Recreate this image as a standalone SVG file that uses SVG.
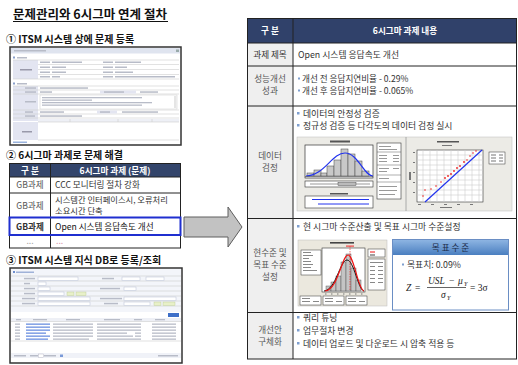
<svg xmlns="http://www.w3.org/2000/svg" width="518" height="365" viewBox="0 0 518 365">
<defs>
<style>
text{font-family:"Noto Sans CJK KR","Liberation Sans",sans-serif;fill:#222}
.h{font-weight:bold;font-size:10px;fill:#111}
.t{font-size:8.6px;fill:#333}
.lab{font-size:8.6px;fill:#555;text-anchor:middle}
.hd{font-size:8.6px;fill:#fff;font-weight:bold;text-anchor:middle}
.b{font-size:8.8px;fill:#333}
.bul{fill:#7f9fcf}
.ln{stroke:#222;stroke-width:1;fill:none}
.g{fill:#c9c9c9}
.gl{stroke:#cfcfcf;stroke-width:0.6}
.tx{fill:#b8bcc8}
.lav{fill:#e3e5f1}
.f{font-family:"Liberation Serif",serif;font-style:italic;font-size:9.5px;fill:#222}
</style>
<linearGradient id="gb" x1="0" y1="0" x2="0" y2="1"><stop offset="0" stop-color="#8db4e2"/><stop offset="1" stop-color="#4a7fc0"/></linearGradient>
</defs>
<rect width="518" height="365" fill="#fff"/>

<g id="title">
<text x="13" y="19" style="font-size:12.5px;font-weight:bold;fill:#111">문제관리와 6시그마 연계 절차</text>
<line x1="13" y1="21.5" x2="168" y2="21.5" stroke="#111" stroke-width="1"/>
</g>

<g id="step1">
<text x="6" y="43" class="h">① ITSM 시스템 상에 문제 등록</text>
</g>

<g id="screen1">
<rect x="10" y="47" width="171" height="98" fill="#fff" stroke="#333" stroke-width="1.5"/>
<rect x="11" y="48" width="169" height="5.5" fill="#dfe4ef"/>
<rect x="14" y="50" width="32" height="1.5" class="tx"/>
<rect x="176" y="49.5" width="3" height="2.5" fill="#9aa"/>
<rect x="13" y="56.5" width="2" height="2" fill="#8aa0cc"/><rect x="17" y="57" width="10" height="1.5" class="tx"/>
<rect x="13" y="60" width="25" height="19" class="lav"/>
<rect x="20" y="69" width="12" height="1.5" fill="#99a"/>
<g class="gl"><line x1="13" y1="60" x2="179" y2="60"/><line x1="13" y1="79" x2="179" y2="79"/><line x1="38" y1="64.5" x2="179" y2="64.5"/><line x1="38" y1="69.5" x2="179" y2="69.5"/><line x1="38" y1="74.5" x2="179" y2="74.5"/></g>
<g class="tx">
<rect x="40" y="61.5" width="10" height="1.5"/><rect x="52" y="61.5" width="30" height="1.5"/>
<rect x="40" y="66.5" width="10" height="1.5"/><rect x="52" y="66.5" width="14" height="1.5"/>
<rect x="40" y="71.5" width="10" height="1.5"/><rect x="52" y="71.5" width="14" height="1.5"/>
<rect x="40" y="76" width="10" height="1.5"/><rect x="52" y="76" width="8" height="1.5"/>
<rect x="103" y="61.5" width="10" height="1.5"/><rect x="115" y="61.5" width="26" height="1.5"/>
<rect x="103" y="66.5" width="10" height="1.5"/><rect x="115" y="66.5" width="12" height="1.5"/>
<rect x="103" y="71.5" width="10" height="1.5"/><rect x="115" y="71.5" width="18" height="1.5"/>
<rect x="103" y="76" width="10" height="1.5"/><rect x="115" y="76" width="60" height="1.5"/>
</g>
<rect x="13" y="82.5" width="2" height="2" fill="#8aa0cc"/><rect x="17" y="83" width="10" height="1.5" class="tx"/>
<rect x="13" y="86" width="25" height="35" class="lav"/>
<g class="gl"><line x1="13" y1="86" x2="179" y2="86"/><line x1="13" y1="90" x2="179" y2="90"/><line x1="13" y1="94" x2="179" y2="94"/><line x1="13" y1="110" x2="179" y2="110"/><line x1="13" y1="114" x2="179" y2="114"/><line x1="13" y1="118" x2="179" y2="118"/></g>
<rect x="100" y="90.5" width="36" height="3" class="lav"/>
<rect x="97" y="110.5" width="20" height="3" class="lav"/>
<rect x="40" y="95" width="137" height="14" fill="#fff" stroke="#ccc" stroke-width="0.5"/>
<rect x="174" y="96" width="2.5" height="12" fill="#e5e5e5"/>
<g class="tx">
<rect x="25" y="87.3" width="11" height="1.5"/><rect x="40" y="87.3" width="48" height="1.5"/>
<rect x="25" y="91.3" width="11" height="1.5"/><rect x="40" y="91.3" width="12" height="1.5"/><rect x="104" y="91.3" width="20" height="1.5"/><rect x="140" y="91.3" width="18" height="1.5"/>
<rect x="25" y="101" width="11" height="1.5"/>
<rect x="42" y="97" width="100" height="1.3"/><rect x="42" y="99.5" width="50" height="1.3"/><rect x="42" y="102" width="110" height="1.3"/><rect x="42" y="104.5" width="100" height="1.3"/>
<rect x="25" y="111.3" width="8" height="1.5"/><rect x="40" y="111.3" width="24" height="1.5"/><rect x="100" y="111.3" width="10" height="1.5"/><rect x="122" y="111.3" width="36" height="1.5"/>
<rect x="25" y="115.3" width="10" height="1.5"/><rect x="40" y="115.3" width="42" height="1.5"/>
</g>
<rect x="38" y="119" width="141" height="3" fill="#eef0f6"/>
<g class="gl"><line x1="38" y1="122" x2="179" y2="122"/><line x1="38" y1="140" x2="179" y2="140"/><line x1="70" y1="119" x2="70" y2="122"/><line x1="118" y1="119" x2="118" y2="122"/><line x1="152" y1="119" x2="152" y2="122"/></g>
<rect x="13" y="122" width="25" height="18" class="lav"/>
<rect x="22" y="131" width="10" height="1.5" fill="#99a"/>
<rect x="13" y="141.5" width="14" height="1.5" fill="#9ab3dd"/>
</g>

<g id="step2">
<text x="6" y="159" class="h">② 6시그마 과제로 문제 해결</text>
</g>

<g id="table2">
<rect x="9.5" y="163.5" width="171" height="13.5" fill="#33456b"/>
<text x="30" y="173.5" class="hd">구 분</text>
<text x="115" y="173.5" class="hd">6시그마 과제 (문제)</text>
<g class="ln">
<rect x="9.5" y="163.5" width="171" height="84.5"/>
<line x1="50.5" y1="163.5" x2="50.5" y2="248"/>
<line x1="9.5" y1="177" x2="180.5" y2="177"/>
<line x1="9.5" y1="193" x2="180.5" y2="193"/>
<line x1="9.5" y1="234.5" x2="180.5" y2="234.5"/>
</g>
<text x="30" y="188" class="lab">GB과제</text>
<text x="55" y="188" class="t">CCC 모니터링 절차 강화</text>
<text x="30" y="208.5" class="lab">GB과제</text>
<text x="55" y="202.5" class="t" style="font-size:8.3px">시스템간 인터페이스시, 오류처리</text>
<text x="55" y="213.5" class="t" style="font-size:8.3px">소요시간 단축</text>
<text x="30" y="229.5" class="lab" style="font-weight:bold;fill:#333">GB과제</text>
<text x="55" y="229.5" class="t" style="fill:#111">Open 시스템 응답속도 개선</text>
<text x="30" y="244" class="lab" style="fill:#aaa">...</text>
<text x="56" y="244" class="t" style="fill:#d9a0b0">...</text>
<rect x="9.5" y="217.5" width="171" height="17.5" fill="none" stroke="#1f2fd0" stroke-width="2"/>
</g>

<g id="step3">
<text x="6" y="264" class="h">③ ITSM 시스템 지식 DB로 등록/조회</text>
</g>

<g id="screen3">
<rect x="10" y="268" width="172" height="95" fill="#fff" stroke="#333" stroke-width="1.5"/>
<rect x="11" y="269" width="170" height="43" fill="#f3f5fa"/>
<rect x="13" y="271" width="2" height="2" fill="#6f8fcf"/><rect x="16" y="271.5" width="18" height="1.5" fill="#9fb2d8"/>
<g class="gl"><line x1="11" y1="276" x2="181" y2="276"/><line x1="11" y1="281" x2="181" y2="281"/><line x1="11" y1="286" x2="181" y2="286"/><line x1="11" y1="291" x2="181" y2="291"/><line x1="11" y1="296" x2="181" y2="296"/><line x1="11" y1="301" x2="181" y2="301"/><line x1="11" y1="306" x2="181" y2="306"/></g>
<g class="tx">
<rect x="24" y="277.8" width="11" height="1.5"/><rect x="24" y="282.8" width="6" height="1.5"/><rect x="24" y="287.8" width="11" height="1.5"/><rect x="24" y="292.8" width="11" height="1.5"/><rect x="22" y="297.8" width="13" height="1.5"/><rect x="22" y="302.8" width="13" height="1.5"/>
<rect x="102" y="277.8" width="12" height="1.5"/><rect x="100" y="287.8" width="20" height="1.5"/><rect x="100" y="297.8" width="22" height="1.5"/><rect x="104" y="302.8" width="14" height="1.5"/>
</g>
<g fill="#fff" stroke="#b8c0d4" stroke-width="0.5">
<rect x="38" y="277" width="40" height="3.5"/><rect x="38" y="282" width="8" height="3.5"/><rect x="38" y="287" width="12" height="3.5"/><rect x="38" y="292" width="26" height="3.5"/><rect x="38" y="297" width="52" height="3.5"/><rect x="38" y="302" width="52" height="3.5"/>
<rect x="122" y="277" width="18" height="3.5"/><rect x="146" y="277" width="18" height="3.5"/><rect x="124" y="287" width="12" height="3.5"/><rect x="124" y="297" width="52" height="3.5"/><rect x="124" y="302" width="26" height="3.5"/>
</g>
<g fill="#e8f0c8" stroke="#b8c890" stroke-width="0.4"><rect x="67" y="292" width="7" height="3.5"/><rect x="76" y="292" width="10" height="3.5"/><rect x="154" y="302" width="7" height="3.5"/><rect x="163" y="302" width="12" height="3.5"/></g>
<rect x="168" y="313" width="11" height="4" fill="#3e6fc8"/>
<rect x="11" y="318" width="170" height="3.5" fill="#eef0f6"/>
<g class="gl"><line x1="11" y1="321.5" x2="181" y2="321.5"/><line x1="11" y1="341" x2="181" y2="341"/></g>
<g class="tx">
<rect x="16" y="319" width="5" height="1.3"/><rect x="33" y="319" width="14" height="1.3"/><rect x="66" y="319" width="14" height="1.3"/><rect x="104" y="319" width="16" height="1.3"/><rect x="134" y="319" width="8" height="1.3"/><rect x="155" y="319" width="10" height="1.3"/>
</g>
<g>
<rect x="15" y="323.5" width="5" height="1.3" class="tx"/><rect x="15" y="326.5" width="5" height="1.3" class="tx"/><rect x="15" y="329.5" width="5" height="1.3" class="tx"/><rect x="15" y="332.5" width="5" height="1.3" class="tx"/><rect x="15" y="335.5" width="5" height="1.3" class="tx"/><rect x="15" y="338.5" width="5" height="1.3" class="tx"/>
<g fill="#6b8fe0"><rect x="26" y="323.5" width="24" height="1.3"/><rect x="26" y="326.5" width="24" height="1.3"/><rect x="26" y="329.5" width="24" height="1.3"/><rect x="26" y="332.5" width="20" height="1.3"/><rect x="26" y="335.5" width="24" height="1.3"/><rect x="26" y="338.5" width="22" height="1.3"/></g>
<g class="tx"><rect x="53" y="323.5" width="40" height="1.3"/><rect x="53" y="326.5" width="40" height="1.3"/><rect x="53" y="329.5" width="40" height="1.3"/><rect x="53" y="332.5" width="40" height="1.3"/><rect x="53" y="335.5" width="40" height="1.3"/><rect x="53" y="338.5" width="36" height="1.3"/>
<rect x="97" y="323.5" width="38" height="1.3"/><rect x="97" y="326.5" width="38" height="1.3"/><rect x="97" y="329.5" width="38" height="1.3"/><rect x="97" y="332.5" width="30" height="1.3"/><rect x="97" y="335.5" width="36" height="1.3"/><rect x="97" y="338.5" width="38" height="1.3"/>
<rect x="135" y="323.5" width="6" height="1.3"/><rect x="135" y="326.5" width="6" height="1.3"/><rect x="135" y="329.5" width="6" height="1.3"/><rect x="135" y="332.5" width="6" height="1.3"/><rect x="135" y="335.5" width="6" height="1.3"/><rect x="135" y="338.5" width="6" height="1.3"/>
<rect x="152" y="323.5" width="24" height="1.3"/><rect x="152" y="326.5" width="24" height="1.3"/><rect x="152" y="329.5" width="24" height="1.3"/><rect x="152" y="332.5" width="24" height="1.3"/><rect x="152" y="335.5" width="24" height="1.3"/><rect x="152" y="338.5" width="24" height="1.3"/></g>
</g>
<rect x="11" y="353" width="170" height="5" fill="#f0f2f8"/>
<g class="tx"><rect x="14" y="355" width="12" height="1.5"/><rect x="30" y="355" width="8" height="1.5"/><rect x="44" y="355" width="12" height="1.5"/><rect x="158" y="355" width="20" height="1.5"/></g>
<rect x="38.5" y="354" width="5" height="3.5" fill="#fff" stroke="#aab" stroke-width="0.4"/>
<rect x="60" y="354.5" width="3" height="2.5" fill="#7a9ad8"/>
</g>

<g id="connectors">
<path d="M184,217 L228,217 L228,207 L242,227 L228,247 L228,237 L184,237 Z" fill="#c2c2c2" stroke="#5e5e5e" stroke-width="1"/>
</g>

<g id="table-right">
<rect x="247.5" y="18.5" width="269" height="24.5" fill="#30416a"/>
<rect x="247.5" y="43" width="45.5" height="316" fill="#efefef"/>
<text x="270" y="34" class="hd">구 분</text>
<text x="405" y="34" class="hd">6시그마 과제 내용</text>
<g class="ln" stroke-width="1.3">
<rect x="247.5" y="18.5" width="269" height="340.5"/>
<line x1="293" y1="18.5" x2="293" y2="359"/>
<line x1="247.5" y1="43" x2="516.5" y2="43"/>
<line x1="247.5" y1="66" x2="516.5" y2="66"/>
<line x1="247.5" y1="106" x2="516.5" y2="106"/>
<line x1="247.5" y1="218.5" x2="516.5" y2="218.5"/>
<line x1="247.5" y1="312.5" x2="516.5" y2="312.5"/>
</g>

<g id="row-title">
<text x="270" y="58" class="lab" style="fill:#333">과제 제목</text>
<text x="298" y="58" class="b">Open 시스템 응답속도 개선</text>
</g>

<g id="row-perf">
<text x="270" y="82" class="lab">성능개선</text>
<text x="270" y="94" class="lab">성과</text>
<rect x="298" y="77.5" width="2" height="2" class="bul"/>
<text x="302" y="82" class="b" style="font-size:8.6px">개선 전 응답지연비율  - 0.29%</text>
<rect x="298" y="89.5" width="2" height="2" class="bul"/>
<text x="302" y="94" class="b" style="font-size:8.6px">개선 후 응답지연비율  - 0.065%</text>
</g>

<g id="row-data">
<text x="270" y="159" class="lab">데이터</text>
<text x="270" y="171" class="lab">검정</text>
<rect x="297" y="112" width="2.5" height="2.5" class="bul"/>
<text x="303" y="117" class="b">데이터의 안정성 검증</text>
<rect x="297" y="124" width="2.5" height="2.5" class="bul"/>
<text x="303" y="129" class="b">정규성 검증 등 다각도의 데이터 검정 실시</text>
<rect x="297" y="137" width="215" height="74" fill="#ecebe6" stroke="#bbb" stroke-width="0.5"/>
<line x1="406" y1="137" x2="406" y2="211" stroke="#999" stroke-width="0.8"/>
<rect x="330" y="140.5" width="20" height="2" fill="#555"/>
<rect x="305" y="145" width="68" height="33" fill="#fff" stroke="#333" stroke-width="0.7"/>
<g fill="#c8c8c8" stroke="#444" stroke-width="0.5">
<rect x="307" y="173" width="7" height="3"/><rect x="314" y="170" width="7" height="6"/><rect x="321" y="173" width="6" height="3"/><rect x="327" y="166" width="7" height="10"/><rect x="334" y="160" width="7" height="16"/><rect x="341" y="149" width="7" height="27"/><rect x="348" y="154" width="7" height="22"/><rect x="355" y="161" width="7" height="15"/><rect x="362" y="171" width="7" height="5"/>
</g>
<path d="M306,176 C324,176 332,153 345,153 C358,153 364,176 373,176" fill="none" stroke="#2233ee" stroke-width="1.2"/>
<line x1="305" y1="176.5" x2="373" y2="176.5" stroke="#333" stroke-width="0.5"/>
<rect x="305" y="181" width="68" height="6" fill="#fff" stroke="#333" stroke-width="0.6"/>
<line x1="310" y1="184" x2="370" y2="184" stroke="#333" stroke-width="0.5"/>
<rect x="338" y="182.5" width="18" height="3" fill="#bbb" stroke="#333" stroke-width="0.4"/>
<rect x="330" y="193" width="18" height="1.5" fill="#555"/>
<rect x="305" y="196" width="68" height="12" fill="#fff" stroke="#333" stroke-width="0.6"/>
<line x1="312" y1="199.5" x2="369" y2="199.5" stroke="#2233ee" stroke-width="1"/>
<line x1="318" y1="204" x2="369" y2="204" stroke="#2233ee" stroke-width="1"/>
<rect x="377" y="143" width="24" height="56" fill="#fff" stroke="#333" stroke-width="0.6"/>
<g stroke="#333" stroke-width="0.4"><line x1="377" y1="152" x2="401" y2="152"/><line x1="377" y1="165" x2="401" y2="165"/><line x1="377" y1="175" x2="401" y2="175"/><line x1="377" y1="182" x2="401" y2="182"/></g>
<g fill="#999"><rect x="379" y="146" width="12" height="1"/><rect x="379" y="149" width="18" height="1"/><rect x="379" y="155" width="8" height="1"/><rect x="379" y="158" width="8" height="1"/><rect x="379" y="161" width="8" height="1"/><rect x="393" y="155" width="6" height="1"/><rect x="393" y="158" width="6" height="1"/><rect x="393" y="161" width="6" height="1"/><rect x="379" y="168" width="10" height="1"/><rect x="379" y="171" width="8" height="1"/><rect x="393" y="168" width="6" height="1"/><rect x="379" y="178" width="10" height="1"/><rect x="379" y="186" width="18" height="1"/><rect x="379" y="190" width="18" height="1"/><rect x="379" y="194" width="16" height="1"/></g>
<rect x="437" y="141" width="22" height="1.5" fill="#555"/>
<rect x="442" y="145" width="10" height="1" fill="#777"/>
<rect x="417" y="150" width="66" height="52" fill="#fff" stroke="#333" stroke-width="0.6"/>
<g class="gl" stroke-width="0.4"><line x1="423" y1="150" x2="423" y2="202"/><line x1="430" y1="150" x2="430" y2="202"/><line x1="437" y1="150" x2="437" y2="202"/><line x1="444" y1="150" x2="444" y2="202"/><line x1="451" y1="150" x2="451" y2="202"/><line x1="458" y1="150" x2="458" y2="202"/><line x1="465" y1="150" x2="465" y2="202"/><line x1="472" y1="150" x2="472" y2="202"/><line x1="479" y1="150" x2="479" y2="202"/>
<line x1="417" y1="155" x2="483" y2="155"/><line x1="417" y1="160" x2="483" y2="160"/><line x1="417" y1="165" x2="483" y2="165"/><line x1="417" y1="170" x2="483" y2="170"/><line x1="417" y1="175" x2="483" y2="175"/><line x1="417" y1="180" x2="483" y2="180"/><line x1="417" y1="185" x2="483" y2="185"/><line x1="417" y1="190" x2="483" y2="190"/><line x1="417" y1="195" x2="483" y2="195"/></g>
<line x1="425" y1="202" x2="482" y2="150" stroke="#2233ee" stroke-width="1.2"/>
<g fill="#ee2222"><circle cx="423" cy="196" r="0.8"/><circle cx="425" cy="190" r="0.8"/><circle cx="431" cy="189" r="0.8"/><circle cx="436" cy="186" r="0.8"/><circle cx="441" cy="182" r="0.8"/><circle cx="445" cy="178" r="0.9"/><circle cx="448" cy="176" r="0.9"/><circle cx="451" cy="174" r="0.9"/><circle cx="454" cy="171" r="0.9"/><circle cx="457" cy="168" r="0.9"/><circle cx="460" cy="166" r="0.9"/><circle cx="464" cy="162" r="0.9"/><circle cx="467" cy="160" r="0.8"/><circle cx="470" cy="156" r="0.8"/><circle cx="473" cy="153" r="0.8"/><circle cx="476" cy="151" r="0.8"/></g>
<g fill="#777"><rect x="413" y="152" width="2" height="1"/><rect x="413" y="162" width="2" height="1"/><rect x="413" y="172" width="2" height="1"/><rect x="413" y="182" width="2" height="1"/><rect x="413" y="192" width="2" height="1"/><rect x="409" y="172" width="2" height="8"/><rect x="418" y="204" width="3" height="1"/><rect x="431" y="204" width="3" height="1"/><rect x="444" y="204" width="3" height="1"/><rect x="457" y="204" width="3" height="1"/><rect x="470" y="204" width="3" height="1"/><rect x="440" y="207" width="12" height="1"/></g>
<rect x="489" y="152" width="16" height="12" fill="#fff" stroke="#333" stroke-width="0.5"/>
<g fill="#777"><rect x="491" y="154.5" width="5" height="1"/><rect x="491" y="157.5" width="5" height="1"/><rect x="491" y="160.5" width="5" height="1"/><rect x="499" y="154.5" width="4" height="1"/><rect x="499" y="157.5" width="4" height="1"/><rect x="499" y="160.5" width="4" height="1"/></g>
</g>

<g id="row-level">
<text x="270" y="256" class="lab">현수준 및</text>
<text x="270" y="268" class="lab">목표 수준</text>
<text x="270" y="280" class="lab">설정</text>
<rect x="297" y="225" width="2.5" height="2.5" class="bul"/>
<text x="303" y="230" class="b">현 시그마 수준산출 및 목표 시그마 수준설정</text>
<rect x="298" y="240" width="89" height="66" fill="#ebe8de" stroke="#bbb" stroke-width="0.5"/>
<rect x="330" y="242" width="24" height="1.6" fill="#444"/>
<rect x="301" y="250" width="20" height="25" fill="#fff" stroke="#333" stroke-width="0.5"/>
<g fill="#888"><rect x="303" y="252" width="8" height="1"/><rect x="303" y="255" width="10" height="1"/><rect x="303" y="258" width="6" height="1"/><rect x="303" y="261" width="8" height="1"/><rect x="303" y="264" width="10" height="1"/><rect x="303" y="267" width="8" height="1"/><rect x="303" y="270" width="14" height="1"/></g>
<rect x="322" y="248" width="43" height="44" fill="#fff" stroke="#333" stroke-width="0.6"/>
<g fill="#c4c4c4" stroke="#444" stroke-width="0.4">
<rect x="326" y="286" width="5" height="5"/><rect x="331" y="282" width="5" height="9"/><rect x="336" y="276" width="5" height="15"/><rect x="341" y="262" width="5" height="29"/><rect x="346" y="254" width="5" height="37"/><rect x="351" y="268" width="5" height="23"/><rect x="356" y="280" width="5" height="11"/>
</g>
<path d="M324,291 C336,290 340,260 347,260 C354,260 358,290 364,291" fill="none" stroke="#111" stroke-width="1"/>
<path d="M325,291 C338,290 342,255 348,255 C354,255 358,290 364,291" fill="none" stroke="#ee1111" stroke-width="1.2"/>
<line x1="350" y1="246" x2="350" y2="291" stroke="#ee1111" stroke-width="0.6" stroke-dasharray="1.5,1"/>
<rect x="346" y="245.5" width="8" height="1.2" fill="#e44"/>
<rect x="368" y="249" width="17" height="8" fill="#fff" stroke="#333" stroke-width="0.5"/>
<line x1="370" y1="252" x2="375" y2="252" stroke="#e11" stroke-width="1"/><line x1="370" y1="255" x2="375" y2="255" stroke="#111" stroke-width="0.8"/>
<rect x="368" y="259" width="17" height="31" fill="#fff" stroke="#333" stroke-width="0.5"/>
<g fill="#888"><rect x="370" y="262" width="13" height="1"/><rect x="370" y="266" width="5" height="1"/><rect x="378" y="266" width="5" height="1"/><rect x="370" y="270" width="5" height="1"/><rect x="378" y="270" width="5" height="1"/><rect x="370" y="274" width="5" height="1"/><rect x="378" y="274" width="5" height="1"/><rect x="370" y="278" width="5" height="1"/><rect x="378" y="278" width="5" height="1"/><rect x="370" y="282" width="5" height="1"/><rect x="378" y="282" width="5" height="1"/></g>
<g fill="#777"><rect x="325" y="293.5" width="1.5" height="1"/><rect x="331" y="293.5" width="1.5" height="1"/><rect x="337" y="293.5" width="1.5" height="1"/><rect x="343" y="293.5" width="1.5" height="1"/><rect x="349" y="293.5" width="1.5" height="1"/><rect x="355" y="293.5" width="1.5" height="1"/><rect x="361" y="293.5" width="1.5" height="1"/></g>
<g fill="#fff" stroke="#333" stroke-width="0.5"><rect x="300" y="296" width="21" height="9"/><rect x="323" y="296" width="21" height="9"/><rect x="346" y="296" width="21" height="9"/></g>
<g fill="#888"><rect x="302" y="298" width="8" height="1"/><rect x="302" y="301" width="8" height="1"/><rect x="313" y="301" width="6" height="1"/><rect x="325" y="298" width="8" height="1"/><rect x="325" y="301" width="8" height="1"/><rect x="336" y="301" width="6" height="1"/><rect x="348" y="298" width="8" height="1"/><rect x="348" y="301" width="8" height="1"/><rect x="359" y="301" width="6" height="1"/></g>

<g id="target-box">
<rect x="392.5" y="239.5" width="116" height="70.5" fill="#fff" stroke="#6a8ec4" stroke-width="1"/>
<rect x="393" y="240" width="115" height="15" fill="url(#gb)"/>
<text x="450.5" y="251" style="font-size:8.6px;fill:#1a2a48;text-anchor:middle">목 표 수 준</text>
<rect x="402" y="263.5" width="2" height="2" class="bul"/>
<text x="407" y="268" class="b">목표치: 0.09%</text>
<text x="406" y="291" class="f">Z</text>
<text x="415" y="291" class="f" style="font-style:normal">=</text>
<text x="428" y="284" class="f">USL</text>
<text x="449" y="284" class="f" style="font-style:normal">−</text>
<text x="458" y="284" class="f">μ</text>
<text x="464" y="286" class="f" style="font-size:6px">Y</text>
<line x1="427" y1="287.5" x2="466" y2="287.5" stroke="#222" stroke-width="0.7"/>
<text x="441" y="298" class="f">σ</text>
<text x="447" y="300" class="f" style="font-size:6px">Y</text>
<text x="470" y="291" class="f" style="font-style:normal">= 3σ</text>
</g>
</g>

<g id="row-improve">
<text x="270" y="333" class="lab">개선안</text>
<text x="270" y="345" class="lab">구체화</text>
<rect x="297" y="316" width="2.5" height="2.5" class="bul"/>
<text x="303" y="321" class="b">쿼리 튜닝</text>
<rect x="297" y="329" width="2.5" height="2.5" class="bul"/>
<text x="303" y="334" class="b">업무절차 변경</text>
<rect x="297" y="342" width="2.5" height="2.5" class="bul"/>
<text x="303" y="347" class="b">데이터 업로드 및 다운로드 시 압축 적용 등</text>
</g>
</g>
</svg>
